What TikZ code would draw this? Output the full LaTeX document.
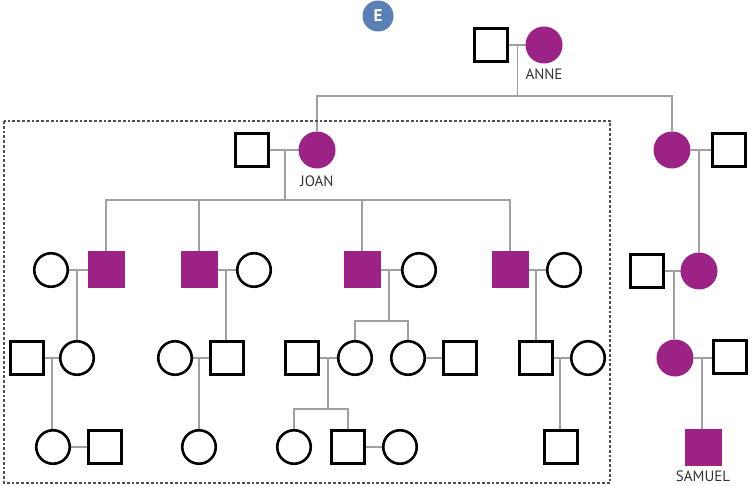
\documentclass[tikz,border=0pt]{standalone}
\usepackage{fontspec}
\newfontfamily\labfont{PT Sans}
\definecolor{mag}{HTML}{9C2286}
\definecolor{relgray}{HTML}{A0A0A0}
\definecolor{badge}{HTML}{5A7FB4}
\definecolor{boxgray}{HTML}{505050}
\definecolor{txt}{HTML}{333333}
\pgfdeclarelayer{back}
\pgfsetlayers{back,main}
\tikzset{
  msq/.style={draw=black, line width=2.6pt, rectangle, minimum size=33.5pt, inner sep=0pt, fill=white},
  fsq/.style={draw=mag, line width=1pt, rectangle, minimum size=36pt, inner sep=0pt, fill=mag},
  mci/.style={draw=black, line width=2.6pt, circle, minimum size=33.5pt, inner sep=0pt, fill=white},
  fci/.style={draw=mag, line width=1pt, circle, minimum size=36pt, inner sep=0pt, fill=mag},
  rel/.style={draw=relgray, line width=1.8pt},
  namelab/.style={font=\labfont\fontsize{15}{17}\selectfont, text=txt, inner sep=0pt},
  boxline/.style={draw=boxgray, line width=2.2pt, dash pattern=on 2.8pt off 2pt},
}
\begin{document}
\begin{tikzpicture}[x=1pt,y=-1pt]
\useasboundingbox (0,0) rectangle (750,486);
% dashed frame
\draw[boxline] (4,121) rectangle (610,483);
% badge
\node[circle, fill=badge, minimum size=31pt, inner sep=0pt, text=white, font=\labfont\bfseries\fontsize{17}{18}\selectfont] (badgeE) at (378,16) {E};

% ---- generation 1
\node[msq] (annH) at (491,45) {};
\node[fci] (anne) at (544,45) {};
\node[namelab] (anneL) at (544,74) {ANNE};
\coordinate (mA) at (517.5,45);
\coordinate (bA) at (517.5,96);

% ---- generation 2
\node[msq] (joanH) at (252,150) {};
\node[fci] (joan) at (317,150) {};
\node[namelab] (joanL) at (317,181) {JOAN};
\coordinate (mJ) at (285,150);
\coordinate (bJ) at (285,200);
\node[fci] (rb1) at (672,150) {};
\node[msq] (rb1H) at (729,150) {};
\coordinate (mR1) at (699,150);

% ---- generation 3
\node[mci] (c1w) at (51,270) {};
\node[fsq] (c1) at (106,270) {};
\node[fsq] (c2) at (199,270) {};
\node[mci] (c2w) at (254,270) {};
\node[fsq] (c3) at (362,270) {};
\node[mci] (c3w) at (419,270) {};
\node[fsq] (c4) at (510,270) {};
\node[mci] (c4w) at (564,270) {};
\node[msq] (r2H) at (647,271) {};
\node[fci] (r2) at (699,271) {};
\coordinate (m1) at (77,270);
\coordinate (m2) at (226,270);
\coordinate (m3) at (389,270);
\coordinate (m4) at (536,270);
\coordinate (mR2) at (674,271);
\coordinate (b3) at (389,321);

% ---- generation 4
\node[msq] (g1H) at (27,358) {};
\node[mci] (g1) at (77,358) {};
\node[mci] (g2) at (175,358) {};
\node[msq] (g2H) at (227,358) {};
\node[msq] (g3H) at (302,358) {};
\node[mci] (g3) at (355,358) {};
\node[mci] (g4) at (408,358) {};
\node[msq] (g4H) at (460,358) {};
\node[msq] (g5) at (536,358) {};
\node[mci] (g5w) at (588,358) {};
\node[fci] (r3) at (675,358) {};
\node[msq] (r3H) at (730,357) {};
\coordinate (n1) at (52,358);
\coordinate (n2) at (199,358);
\coordinate (n3) at (328,358);
\coordinate (n5) at (560,358);
\coordinate (nR) at (702,358);
\coordinate (b4) at (328,409);

% ---- generation 5
\node[mci] (h1) at (53,447) {};
\node[msq] (h1H) at (105,447) {};
\node[mci] (h2) at (199,447) {};
\node[mci] (h3) at (294,447) {};
\node[msq] (h4) at (348,447) {};
\node[mci] (h4w) at (400,447) {};
\node[msq] (h5) at (561,447) {};
\node[fsq] (sam) at (703,447) {};
\node[namelab] (samL) at (703,476) {SAMUEL};

% ---- connectors
\begin{pgfonlayer}{back}
% gen 1
\draw[rel] (annH) -- (anne);
\draw[rel] (mA) -- (bA);
\draw[rel] (joan.north) |- (bA) -| (rb1.north);
% gen 2
\draw[rel] (joanH) -- (joan);
\draw[rel] (mJ) -- (bJ);
\draw[rel] (c1.north) |- (bJ) -| (c4.north);
\draw[rel] (c2.north) -- (c2.north |- bJ);
\draw[rel] (c3.north) -- (c3.north |- bJ);
\draw[rel] (rb1) -- (rb1H);
\draw[rel] (mR1) -- (r2.north);
% gen 3
\draw[rel] (c1w) -- (c1);
\draw[rel] (c2) -- (c2w);
\draw[rel] (c3) -- (c3w);
\draw[rel] (c4) -- (c4w);
\draw[rel] (r2H) -- (r2);
\draw[rel] (m1) -- (g1.north);
\draw[rel] (m2) -- (m2 |- g2H.north);
\draw[rel] (m3) -- (b3);
\draw[rel] (g3.north) |- (b3) -| (g4.north);
\draw[rel] (m4) -- (g5.north);
\draw[rel] (mR2) -- (mR2 |- r3.north);
% gen 4
\draw[rel] (g1H) -- (g1);
\draw[rel] (g2) -- (g2H);
\draw[rel] (g3H) -- (g3);
\draw[rel] (g4) -- (g4H);
\draw[rel] (g5) -- (g5w);
\draw[rel] (r3) -- (r3 -| r3H.west);
\draw[rel] (n1) -- (n1 |- h1.north);
\draw[rel] (n2) -- (h2.north);
\draw[rel] (n3) -- (b4);
\draw[rel] (h3.north) |- (b4) -| (h4.north);
\draw[rel] (n5) -- (n5 |- h5.north);
\draw[rel] (nR) -- (nR |- sam.north);
% gen 5
\draw[rel] (h1) -- (h1H);
\draw[rel] (h4) -- (h4w);
\end{pgfonlayer}
\end{tikzpicture}
\end{document}
